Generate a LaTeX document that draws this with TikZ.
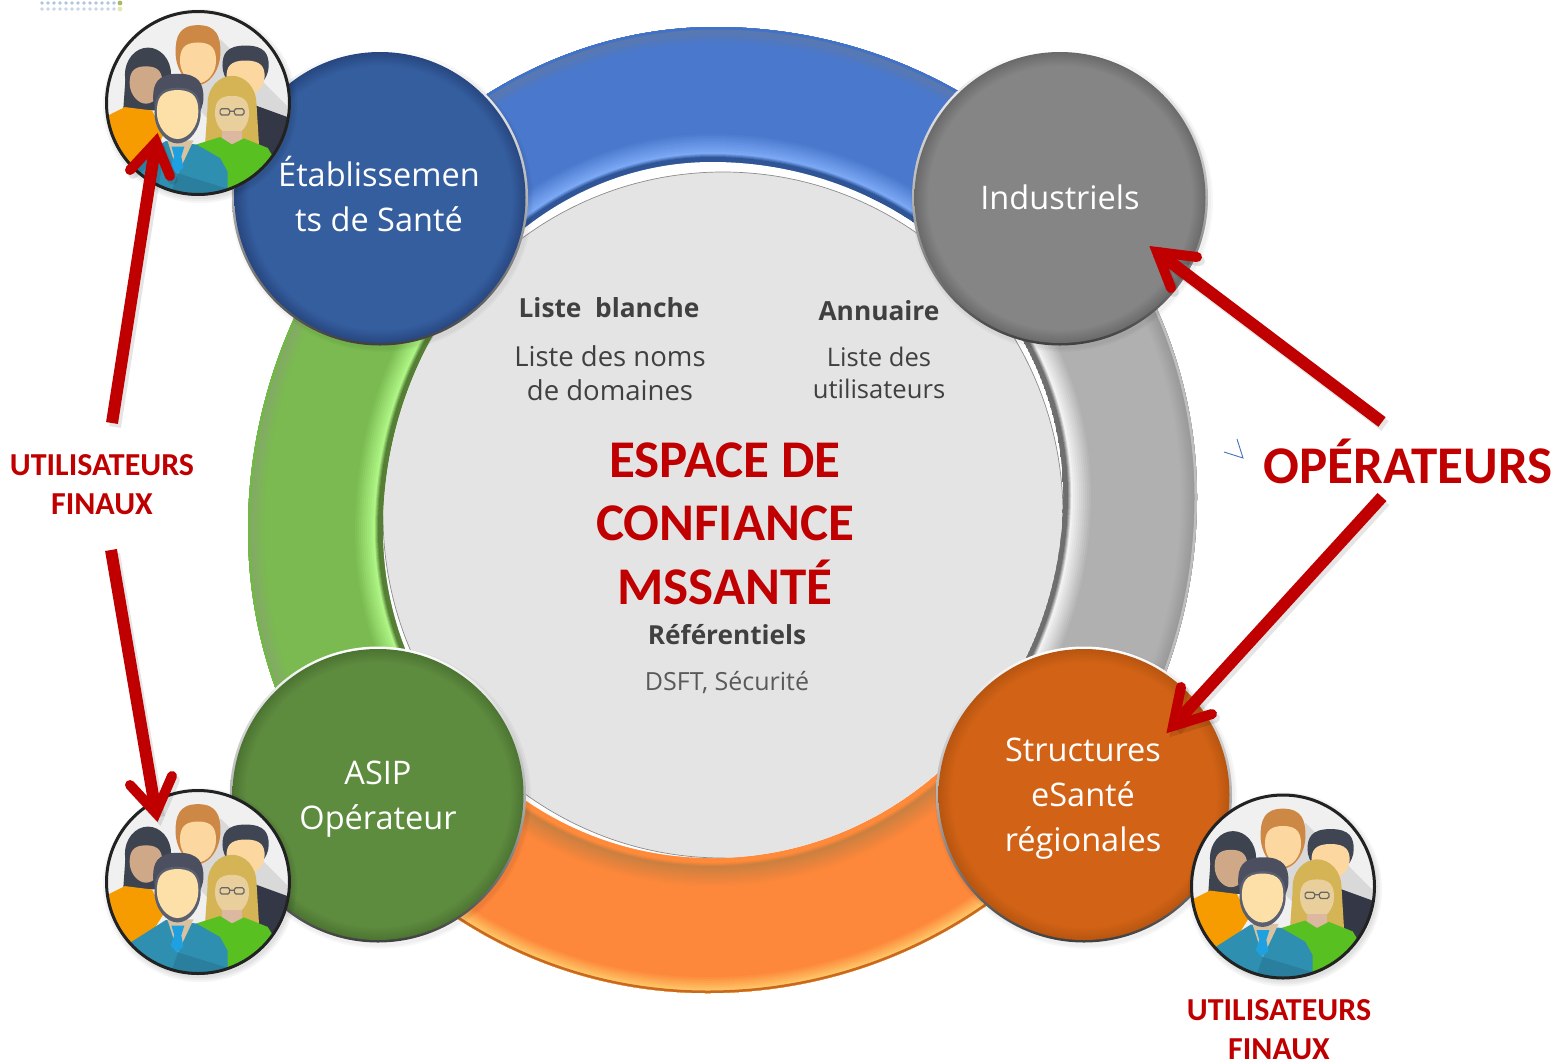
\documentclass[tikz,border=0pt]{standalone}
\usepackage{fontspec}
\setmainfont{Open Sans}
\newfontfamily\calib{Carlito}
\usetikzlibrary{arrows.meta,shadings}
% colours
\definecolor{redmain}{HTML}{C00000}
\definecolor{txtdark}{HTML}{404040}
\definecolor{txtgrey}{HTML}{595959}
\tikzset{
  HTML/.code={\definecolor{tmpc}{HTML}{#1}\tikzset{color=tmpc}},
  shaftline/.style={draw=redmain,line width=12pt},
  headline/.style={draw=redmain,line width=10pt,line cap=round,line join=miter,miter limit=10},
  shaftshadow/.style={draw=black,opacity=.10,line width=12pt},
  headshadow/.style={draw=black,opacity=.10,line width=10pt,line cap=round,line join=miter,miter limit=10},
  disk/.style={circle,inner sep=0pt},
  disktext/.style={inner sep=0pt,text=white,align=center,font=\fontsize{32.5}{45}\selectfont},
  bodytext/.style={align=center,inner sep=0pt,text=txtdark},
  redlabel/.style={align=center,inner sep=0pt,text=redmain,font=\calib\bfseries\fontsize{32}{39}\selectfont},
}
% ring outlines: four quarter ellipses with measured extremes
\newcommand{\outerpath}{(715,27) .. controls (981,27) and (1197,237) .. (1197,497) .. controls (1197,771) and (981,993) .. (707,993) .. controls (454,993) and (248,786) .. (248,530) .. controls (248,265) and (459,27) .. (715,27) -- cycle}
\newcommand{\innerpath}{(712,162) .. controls (906,162) and (1063,312) .. (1063,495) .. controls (1063,695) and (906,858) .. (712,858) .. controls (530,858) and (383,711) .. (383,530) .. controls (383,329) and (530,162) .. (712,162) -- cycle}
% one sector of the ring: clip, main, outer band, outer edge, inner band, inner edge
\newcommand{\ringsector}[6]{%
 \begin{scope}
  \clip #1;
  \clip \outerpath;
  \definecolor{rm}{HTML}{#2}\definecolor{rob}{HTML}{#3}\definecolor{roe}{HTML}{#4}\definecolor{rib}{HTML}{#5}\definecolor{rie}{HTML}{#6}%
  \fill[rm] \outerpath;
  \foreach \w in {18,16,...,4}{
    \pgfmathtruncatemacro{\p}{(18-\w)/14*100}
    \draw[line width=2*\w pt,color=rob!\p!rm] \outerpath;}
  \draw[line width=5pt,color=roe] \outerpath;
  \foreach \w in {30,28,...,10}{
    \pgfmathtruncatemacro{\p}{(30-\w)/20*100}
    \draw[line width=2*\w pt,color=rib!\p!rm] \innerpath;}
  \foreach \w in {9,8,7,6,5}{
    \pgfmathtruncatemacro{\p}{(9-\w)/4*100}
    \draw[line width=2*\w pt,color=rie!\p!rib] \innerpath;}
 \end{scope}}
\newcommand{\facepath}[4]{(#1,#2-#4) .. controls (#1+#3*.85,#2-#4) and (#1+#3,#2-#4*.6) .. (#1+#3,#2-#4*.1) .. controls (#1+#3,#2+#4*.5) and (#1+#3*.5,#2+#4) .. (#1,#2+#4) .. controls (#1-#3*.5,#2+#4) and (#1-#3,#2+#4*.5) .. (#1-#3,#2-#4*.1) .. controls (#1-#3,#2-#4*.6) and (#1-#3*.85,#2-#4) .. (#1,#2-#4) -- cycle}
% sphere: name, x, y, r, main colour, edge colour
\newcommand{\sphere}[6]{%
  \definecolor{#1in}{HTML}{#5}\definecolor{#1out}{HTML}{#6}%
  \pgfdeclareradialshading{sh#1}{\pgfpoint{0bp}{0bp}}{color(0bp)=(#1in);color(22.6bp)=(#1in);color(25bp)=(#1out);color(50bp)=(#1out)}%
  \foreach \k in {3,1}{\fill[black,opacity=.03] (#2+2,#3+3) circle[radius=#4+\k];}
  \shade[top color=white,bottom color=black!75,middle color=black!30] (#2,#3) circle[radius=#4];
  \node[disk,minimum size=#4*2pt-5pt,shade,shading=sh#1] (#1) at (#2,#3) {};
}
% group of people
\newcommand{\peopleicon}[3]{%
 \foreach \k in {5,3,1}{\fill[black,opacity=.04] (#2+2,#3+3) circle[radius=92+\k];}
 \begin{scope}[shift={(#2,#3)},x=0.34pt,y=-0.34pt]
 \begin{scope}[shift={(-325,-308)}]
 \coordinate (#1) at (325,308);
 \clip (325,308) circle[radius=272];
 \fill[black!6] (0,0) rectangle (660,640);
 \fill[black!15] (390,120) -- (600,330) -- (600,600) -- (300,300) -- cycle;
 % back person
 \fill[HTML=CC8844] \facepath{325}{167}{66}{88};
 \fill[HTML=FCD8A0] \facepath{325}{190}{53}{60};
 % right man
 \fill[HTML=343846] (480,310) -- (590,350) -- (590,560) -- (470,560) -- cycle;
 \fill[HTML=3F4552] \facepath{465}{205}{68}{66};
 \fill[HTML=FCD8A0] \facepath{465}{235}{56}{52};
 % woman
 \fill[HTML=3D4450] (178,225) ellipse[x radius=68,y radius=80];
 \fill[HTML=3D4450] (112,230) -- (246,230) -- (200,330) -- (105,330) -- cycle;
 \fill[HTML=CFA888] \facepath{172}{255}{48}{55};
 \fill[HTML=F79C00] (60,345) -- (110,320) -- (190,330) -- (225,400) -- (150,520) -- (50,520) -- cycle;
 % blonde
 \fill[HTML=D4B455] (425,310) ellipse[x radius=72,y radius=82];
 \fill[HTML=D4B455] (354,310) -- (497,310) -- (505,440) -- (345,440) -- cycle;
 \fill[HTML=E8CF9C] \facepath{425}{345}{50}{58};
 \fill[HTML=DDB8A0] (395,390) rectangle (455,430);
 \fill[HTML=58C020] (320,430) -- (390,408) -- (425,430) -- (460,412) -- (530,440) -- (548,470) -- (500,540) -- (415,575) -- cycle;
 \draw[HTML=666666,line width=1.2pt,rounded corners=1.5pt] (390,325) rectangle (418,343) (432,325) rectangle (460,343) (418,332) -- (432,332);
 % front man
 \fill[HTML=2F8FB0] (120,490) -- (230,420) -- (320,430) -- (390,470) -- (412,510) -- (412,620) -- (120,620) -- cycle;
 \fill[HTML=2A7F9E] (266,515) -- (412,560) -- (412,620) -- (230,620) -- cycle;
 \fill[HTML=D9C2A0] (235,418) -- (312,418) -- (266,515) -- cycle;
 \fill[HTML=1FA0E0] (247,436) -- (285,436) -- (276,465) -- (282,498) -- (262,515) -- (245,495) -- (255,465) -- cycle;
 \fill[HTML=4B4F60] \facepath{267}{300}{74}{78};
 \fill[HTML=5A6070] \facepath{265}{345}{68}{82};
 \fill[HTML=FDDFA8] \facepath{265}{342}{61}{72};
 \end{scope}
 \end{scope}
 \draw[HTML=222222,line width=3pt] (#2,#3) circle[radius=91.5];
}
\begin{document}
\begin{tikzpicture}[x=1pt,y=-1pt]
\useasboundingbox (0,0) rectangle (1559,1061);
\fill[white] (0,0) rectangle (1559,1061);
% faint dotted scrap at the top left
\foreach \i in {0,...,12}{
  \fill[HTML=AFC6DE] (42+\i*6,3) circle[radius=1.9];
  \fill[HTML=C4D6E8] (42+\i*6,9) circle[radius=1.9];}
\fill[HTML=A9B86A] (120,3) circle[radius=2.4];
\fill[HTML=E4E8A8] (120,9) circle[radius=2.4];
% ring sectors
\ringsector{(723,510) -- (0,-213) -- (1446,-213) -- cycle}{4A78CC}{5B78AD}{3F72CA}{7BA8F5}{2F5597}
\ringsector{(723,510) -- (1446,-213) -- (1446,1233) -- cycle}{B0B0B0}{9A9A9A}{BEBEBE}{F2F2F2}{6E6E6E}
\ringsector{(723,510) -- (1446,1233) -- (0,1233) -- cycle}{FD873A}{FFC466}{C8691F}{CC8040}{FF8A3A}
\ringsector{(723,510) -- (0,1233) -- (0,-213) -- cycle}{7ABA50}{84AA66}{72B846}{AEF585}{567F36}
% central disc
\begin{scope}
  \clip \innerpath;
  \fill[white] \innerpath;
  \fill[HTML=E4E4E4] (723,515) ellipse[x radius=340,y radius=343];
  \draw[black!45,line width=.7pt] (723,515) ellipse[x radius=340,y radius=343];
\end{scope}
% spheres
\sphere{etab}{380}{197.5}{148}{355E9F}{274780}
\sphere{indus}{1060}{197.5}{148}{858585}{6A6A6A}
\sphere{asip}{378}{794.5}{148}{5E8C3F}{4C7432}
\sphere{struct}{1084}{794.5}{148}{D26316}{B85510}
\node[disktext] (etabt) at (379,194) {Établissemen\\ts de Santé};
\node[disktext] (indust) at (1060,197) {Industriels};
\node[disktext] (asipt) at (378,799) {ASIP\\Opérateur};
\node[disktext] (structt) at (1083,799) {Structures\\eSanté\\régionales};
% people
\peopleicon{pa}{198}{103}
\peopleicon{pb}{198}{882}
\peopleicon{pc}{1283}{886.5}
% texts in the disc
\node[bodytext,font=\bfseries\fontsize{26.3}{34}\selectfont] (blanche) at (609,308) {Liste\ \ blanche};
\node[bodytext,font=\fontsize{27.5}{34}\selectfont] (noms) at (610,373) {Liste des noms\\de domaines};
\node[bodytext,font=\bfseries\fontsize{26.3}{34}\selectfont] (annuaire) at (879,311) {Annuaire};
\node[bodytext,font=\fontsize{25.6}{32}\selectfont] (users) at (879,373) {Liste des\\utilisateurs};
\node[align=center,inner sep=0pt,text=redmain,font=\calib\bfseries\fontsize{53}{63.5}\selectfont] (espace) at (725,523.5) {ESPACE DE\\CONFIANCE\\MSSANTÉ};
\node[bodytext,font=\bfseries\fontsize{26.2}{34}\selectfont] (ref) at (727,635) {Référentiels};
\node[bodytext,text=txtgrey,font=\fontsize{25}{30}\selectfont] (dsft) at (727,683) {DSFT, Sécurité};
% outer labels
\node[redlabel] (ufa) at (102,485) {UTILISATEURS\\FINAUX};
\node[redlabel] (ufb) at (1279,1030) {UTILISATEURS\\FINAUX};
\node[inner sep=0pt,text=redmain,font=\calib\bfseries\fontsize{53}{60}\selectfont] (oper) at (1408,461) {OPÉRATEURS};
% small chevron
\coordinate (cha) at (1224,452);\coordinate (chb) at (1243,458);\coordinate (chc) at (1237,439);
\draw[HTML=4472C4,line width=.9pt] (cha) -- (chb) -- (chc);
% arrows: tail, vertex of the head, the two barbs
\coordinate (a1s) at (112,423);\coordinate (a1v) at (156,142);\coordinate (a1l) at (130,170);\coordinate (a1r) at (170,176);
\coordinate (a2s) at (111,550);\coordinate (a2v) at (156,813);\coordinate (a2l) at (130,785);\coordinate (a2r) at (172,776);
\coordinate (a3s) at (1382,422);\coordinate (a3v) at (1157,252);\coordinate (a3l) at (1197,257);\coordinate (a3r) at (1171,288);
\coordinate (a4s) at (1382,497);\coordinate (a4v) at (1173,726);\coordinate (a4l) at (1181,687);\coordinate (a4r) at (1212,714);
\foreach \s/\v/\l/\r in {a1s/a1v/a1l/a1r,a2s/a2v/a2l/a2r,a3s/a3v/a3l/a3r,a4s/a4v/a4l/a4r}{
  \begin{scope}[transform canvas={shift={(3pt,-4pt)}}]
  \draw[shaftshadow] (\s) -- (\v);
  \draw[headshadow] (\l) -- (\v) -- (\r);
  \end{scope}
  \draw[shaftline] (\s) -- (\v);
  \draw[headline] (\l) -- (\v) -- (\r);}
\end{tikzpicture}
\end{document}
